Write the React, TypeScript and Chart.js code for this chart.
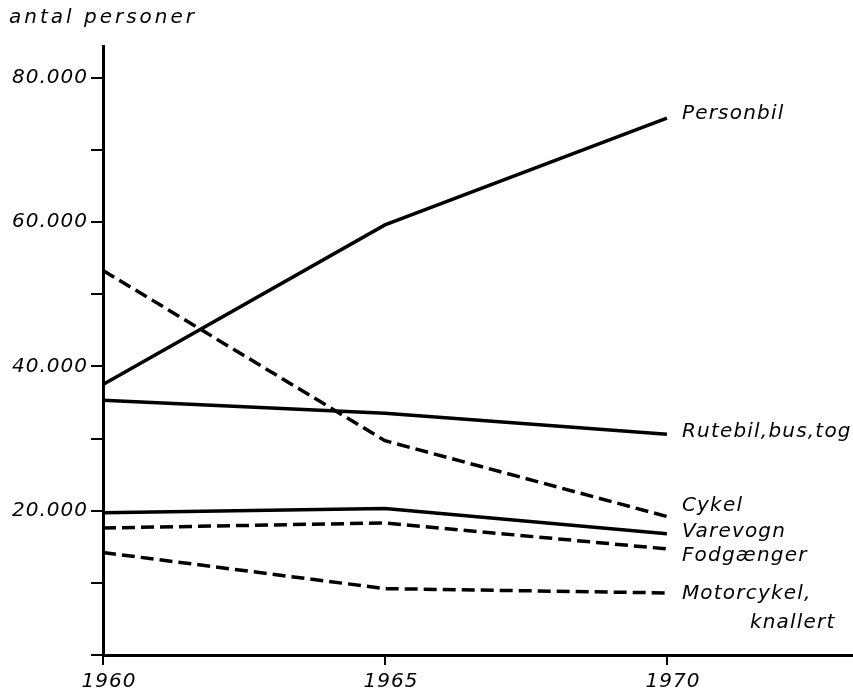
import React, { useEffect, useRef } from "react";
import { Chart, registerables } from "chart.js";

Chart.register(...registerables);

const years = [1960, 1965, 1970];
const personbil = [37500, 59600, 74400];
const cykel = [53300, 29700, 19200];
const rutebil = [35300, 33500, 30600];
const varevogn = [19700, 20300, 16800];
const fodgaenger = [17600, 18300, 14700];
const motorcykel = [14200, 9200, 8600];

const yTickValues = [0, 10000, 20000, 30000, 40000, 50000, 60000, 70000, 80000];
const xTickValues = [1960, 1965, 1970];

const seriesNames = [
  ["Personbil"],
  ["Cykel"],
  ["Rutebil,bus,tog"],
  ["Varevogn"],
  ["Fodgænger"],
  ["Motorcykel,", "knallert"],
];
const seriesData = [personbil, cykel, rutebil, varevogn, fodgaenger, motorcykel];
const dashed = [false, true, false, false, true, true];
// label vertical offsets (px) relative to line end
const labelOffsets = [-4, -11, -2, -2, 7, 1];

const yTitle = "antal personer";
const FONT = "'DejaVu Sans', sans-serif";

export default function App() {
  const ref = useRef<HTMLCanvasElement>(null);
  useEffect(() => {
    const labelPlugin = {
      id: "endLabels",
      beforeDraw(chart: any) {
        (chart.ctx as any).letterSpacing = "1px";
      },
      afterDraw(chart: any) {
        const ctx = chart.ctx;
        const xs = chart.scales.x;
        const ys = chart.scales.y;
        ctx.save();
        ctx.fillStyle = "#000";
        ctx.font = `italic 20px ${FONT}`;
        (ctx as any).letterSpacing = "1.2px";
        ctx.textBaseline = "middle";
        ctx.textAlign = "left";
        seriesData.forEach((d, i) => {
          const x = xs.getPixelForValue(years[years.length - 1]) + 15;
          const y = ys.getPixelForValue(d[d.length - 1]) + labelOffsets[i];
          const lines = seriesNames[i];
          ctx.fillText(lines[0], x, y);
          if (lines.length > 1) {
            ctx.fillText(lines[1], x + 68, y + 29);
          }
        });
        ctx.font = `italic 20px ${FONT}`;
        (ctx as any).letterSpacing = "3px";
        ctx.fillText(yTitle, 9, 18);
        ctx.restore();
      },
    };
    const chart = new Chart(ref.current!, {
      type: "line",
      data: {
        datasets: seriesData.map((d, i) => ({
          label: seriesNames[i].join(" "),
          data: years.map((y, j) => ({ x: y, y: d[j] })),
          borderColor: "#000",
          borderWidth: 3.5,
          borderDash: dashed[i] ? [13, 6] : [],
          pointRadius: 0,
          tension: 0,
          fill: false,
        })),
      },
      options: {
        animation: false,
        responsive: false,
        maintainAspectRatio: false,
        layout: { padding: { top: 46, right: 0, left: 0, bottom: 0 } },
        plugins: { legend: { display: false }, tooltip: { enabled: false } },
        scales: {
          x: {
            type: "linear",
            min: 1960,
            max: 1973.3,
            grid: { drawOnChartArea: false, drawTicks: true, tickLength: 10, color: "#000", lineWidth: 2 },
            border: { display: true, color: "#000", width: 3 },
            afterBuildTicks: (s: any) => { s.ticks = xTickValues.map((v) => ({ value: v })); },
            ticks: {
              autoSkip: false,
              color: "#000",
              font: { family: FONT, size: 20, style: "italic" },
              padding: 5,
              labelOffset: 6,
              maxRotation: 0,
              callback: (v: any) => String(v),
            },
            afterFit: (s: any) => { s.height = 36; },
          },
          y: {
            type: "linear",
            min: 0,
            max: 84400,
            grid: { drawOnChartArea: false, drawTicks: true, tickLength: 12, color: "#000", lineWidth: 2 },
            border: { display: true, color: "#000", width: 3 },
            afterBuildTicks: (s: any) => { s.ticks = yTickValues.map((v) => ({ value: v })); },
            ticks: {
              autoSkip: false,
              color: "#000",
              font: { family: FONT, size: 20, style: "italic" },
              padding: 3,
              callback: (v: any) => (v > 0 && v % 20000 === 0 ? `${v / 1000}.000` : ""),
            },
            afterFit: (s: any) => { s.width = 103; },
          },
        },
      },
      plugins: [labelPlugin],
    });
    return () => chart.destroy();
  }, []);
  return (
    <div style={{ position: "absolute", left: 0, top: 0, width: 853, height: 691, background: "#fff" }}>
      <canvas ref={ref} width={853} height={691} style={{ display: "block" }} />
    </div>
  );
}
